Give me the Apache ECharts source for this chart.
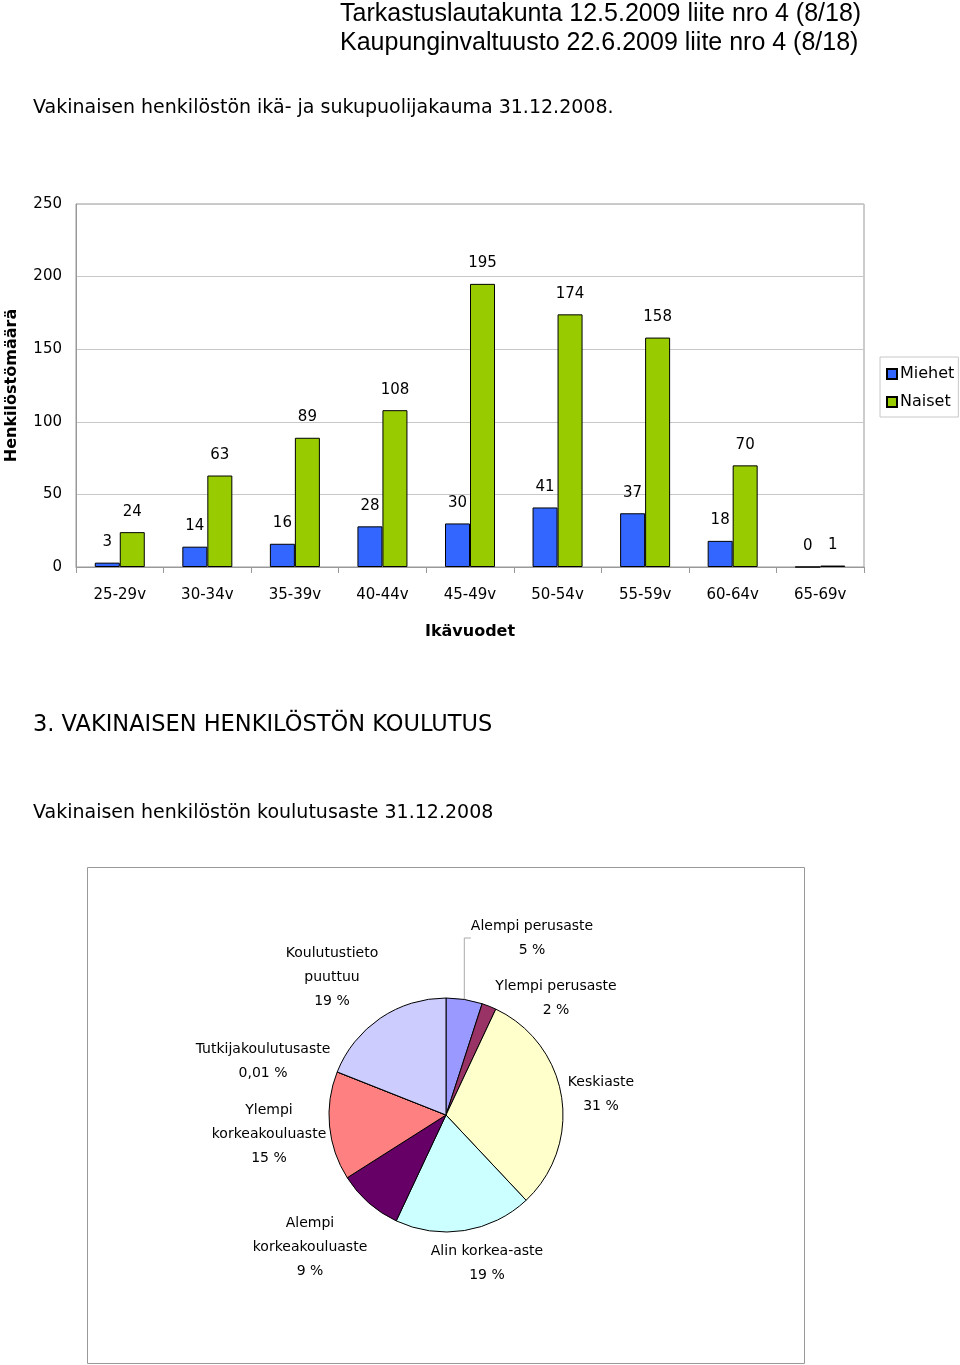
<!DOCTYPE html>
<html>
<head>
<meta charset="utf-8">
<script src="https://cdn.jsdelivr.net/npm/echarts@6/dist/echarts.min.js"></script>
<style>
html,body{margin:0;padding:0;background:#fff;}
#chart{width:960px;height:1365px;}
</style>
</head>
<body>
<div id="chart"></div>
<script>
// ---- Bar chart data ----
const ageGroups = ['25-29v','30-34v','35-39v','40-44v','45-49v','50-54v','55-59v','60-64v','65-69v'];
const miehet = [3, 14, 16, 28, 30, 41, 37, 18, 0];
const naiset = [24, 63, 89, 108, 195, 174, 158, 70, 1];
const yTicks = [0, 50, 100, 150, 200, 250];

// ---- Pie chart data ----
const eduNames = ['Alempi perusaste','Ylempi perusaste','Keskiaste','Alin korkea-aste','Alempi korkeakouluaste','Ylempi korkeakouluaste','Tutkijakoulutusaste','Koulutustieto puuttuu'];
const eduLabels = ['Alempi perusaste','Ylempi perusaste','Keskiaste','Alin korkea-aste','Alempi\nkorkeakouluaste','Ylempi\nkorkeakouluaste','Tutkijakoulutusaste','Koulutustieto\npuuttuu'];
const eduPercent = [5, 2, 31, 19, 9, 15, 0.01, 19];

// ---- layout / style (not data) ----
const eduColors = ['#9999FF','#993366','#FFFFCC','#CCFFFF','#660066','#FF8080','#0066CC','#CCCCFF'];
const eduLabelPos = [[532,938],[556,998],[601,1094],[487,1263],[310,1247],[269,1134],[263,1061],[332,977]];
const FONT = 'DejaVu Sans';

const chart = echarts.init(document.getElementById('chart'));
const option = {
  backgroundColor: '#fff',
  animation: false,
  textStyle: { fontFamily: FONT, color: '#000' },
  title: [
    { text: 'Tarkastuslautakunta 12.5.2009 liite nro 4 (8/18)\nKaupunginvaltuusto 22.6.2009 liite nro 4 (8/18)',
      left: 340, top: 0, padding: 0,
      textStyle: { fontFamily: 'Liberation Sans', fontSize: 25, fontWeight: 'normal', lineHeight: 29, color: '#000' } },
    { text: 'Vakinaisen henkilöstön ikä- ja sukupuolijakauma 31.12.2008.', left: 33, top: 99, padding: 0,
      textStyle: { fontFamily: FONT, fontSize: 19, fontWeight: 'normal', color: '#000' } },
    { text: '3. VAKINAISEN HENKILÖSTÖN KOULUTUS', left: 33, top: 714, padding: 0,
      textStyle: { fontFamily: FONT, fontSize: 22.5, fontWeight: 'normal', color: '#000' } },
    { text: 'Vakinaisen henkilöstön koulutusaste 31.12.2008', left: 33, top: 804, padding: 0,
      textStyle: { fontFamily: FONT, fontSize: 19, fontWeight: 'normal', color: '#000' } }
  ],
  legend: {
    data: ['Miehet','Naiset'],
    orient: 'vertical',
    left: 880, top: 357,
    padding: [9, 4, 7, 6],
    itemGap: 12,
    itemWidth: 10, itemHeight: 10,
    icon: 'rect',
    borderColor: '#c8c8c8', borderWidth: 1,
    textStyle: { fontFamily: FONT, fontSize: 16, color: '#000', padding: [0,0,0,-2] }
  },
  grid: {
    left: 76, top: 204, width: 788, height: 363,
    show: true, borderColor: '#999', borderWidth: 1,
    containLabel: false,
    outerBoundsMode: 'none'
  },
  xAxis: {
    type: 'category',
    data: ageGroups,
    name: 'Ikävuodet',
    nameLocation: 'middle',
    nameGap: 57,
    nameTextStyle: { fontFamily: FONT, fontSize: 16, fontWeight: 'bold', color: '#000' },
    axisLine: { lineStyle: { color: '#999', width: 1 } },
    axisTick: { show: true, length: 6, lineStyle: { color: '#999' } },
    axisLabel: { fontFamily: FONT, fontSize: 15, color: '#000', margin: 21 }
  },
  yAxis: {
    type: 'value',
    min: yTicks[0], max: yTicks[yTicks.length-1], interval: yTicks[1]-yTicks[0],
    name: 'Henkilöstömäärä',
    nameLocation: 'middle',
    nameGap: 56,
    nameRotate: 90,
    nameTextStyle: { fontFamily: FONT, fontSize: 16, fontWeight: 'bold', color: '#000' },
    axisLine: { show: true, lineStyle: { color: '#999' } },
    axisTick: { show: false },
    splitLine: { lineStyle: { color: '#c8c8c8', width: 1 } },
    axisLabel: { fontFamily: FONT, fontSize: 15, color: '#000', margin: 14 }
  },
  series: [
    { name: 'Miehet', type: 'bar', data: miehet, barWidth: 25, barGap: '0%',
      itemStyle: { color: '#3366FF', borderColor: '#000', borderWidth: 1 },
      label: { show: true, position: 'top', distance: 13, fontFamily: FONT, fontSize: 15, color: '#000' } },
    { name: 'Naiset', type: 'bar', data: naiset, barWidth: 25, barGap: '0%',
      itemStyle: { color: '#99CC00', borderColor: '#000', borderWidth: 1 },
      label: { show: true, position: 'top', distance: 13, fontFamily: FONT, fontSize: 15, color: '#000' } },
    { name: 'Koulutusaste', type: 'pie',
      center: [446, 1115], radius: 117,
      startAngle: 90, clockwise: true,
      minAngle: 0, avoidLabelOverlap: false,
      itemStyle: { borderColor: '#000', borderWidth: 1 },
      label: {
        show: true, position: 'outside',
        fontFamily: FONT, fontSize: 14, color: '#000', lineHeight: 24, align: 'center',
        formatter: p => eduLabels[p.dataIndex] + '\n' + String(p.value).replace('.', ',') + ' %'
      },
      labelLine: { show: false },
      labelLayout: p => ({ x: eduLabelPos[p.dataIndex][0], y: eduLabelPos[p.dataIndex][1], align: 'center', verticalAlign: 'middle' }),
      emphasis: { disabled: true },
      data: eduNames.map((n, i) => ({
        name: n, value: eduPercent[i],
        itemStyle: { color: eduColors[i] },
        labelLine: (i === 0) ? { show: true, lineStyle: { color: '#aaa', width: 1 } } : { show: false }
      }))
    }
  ],
  graphic: [
    { type: 'rect', shape: { x: 87.5, y: 867.5, width: 717, height: 496 }, style: { fill: null, stroke: '#999', lineWidth: 1 }, silent: true, z: -1 }
  ]
};
chart.setOption(option);
</script>
</body>
</html>
